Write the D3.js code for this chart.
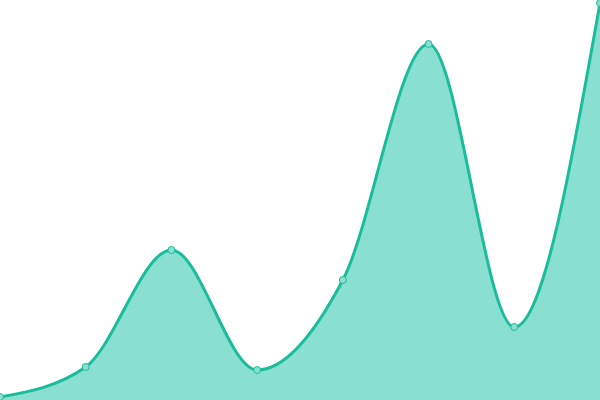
<!DOCTYPE html>
<html>
<head>
<meta charset="utf-8">
<script src="https://cdn.jsdelivr.net/npm/d3@7"></script>
<style>
  html, body { margin: 0; padding: 0; background: #fff; }
  svg { display: block; }
</style>
</head>
<body>
<div id="chart"></div>
<script>
var categories = [0, 1, 2, 3, 4, 5, 6, 7];
var values = [3, 33, 150, 30, 120, 356, 73, 397];

var width = 600, height = 400;

var svg = d3.select("#chart")
    .append("svg")
    .attr("width", width)
    .attr("height", height);

var x = d3.scaleLinear()
    .domain([0, categories.length - 1])
    .range([0, width]);

var y = d3.scaleLinear()
    .domain([0, 400])
    .range([height, 0]);

var data = categories.map(function (c, i) { return { c: c, v: values[i] }; });

var area = d3.area()
    .curve(d3.curveMonotoneX)
    .x(function (d) { return x(d.c); })
    .y0(y(0))
    .y1(function (d) { return y(d.v); });

var line = d3.line()
    .curve(d3.curveMonotoneX)
    .x(function (d) { return x(d.c); })
    .y(function (d) { return y(d.v); });

svg.append("path")
    .datum(data)
    .attr("d", area)
    .attr("fill", "#8ae0d0");

svg.append("path")
    .datum(data)
    .attr("d", line)
    .attr("fill", "none")
    .attr("stroke", "#1abc9c")
    .attr("stroke-width", 3);

svg.selectAll(".dot")
    .data(data)
    .enter()
    .append("circle")
    .attr("class", "dot")
    .attr("cx", function (d) { return x(d.c); })
    .attr("cy", function (d) { return y(d.v); })
    .attr("r", 3.5)
    .attr("fill", "#8ae0d0")
    .attr("stroke", "#1abc9c")
    .attr("stroke-width", 1);
</script>
</body>
</html>
